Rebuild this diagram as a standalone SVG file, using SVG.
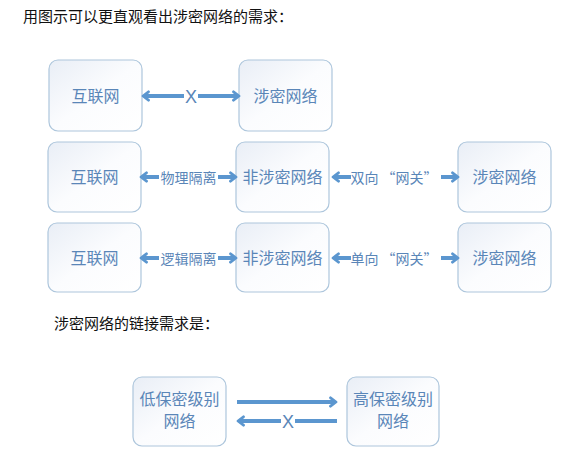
<svg xmlns="http://www.w3.org/2000/svg" width="584" height="455" viewBox="0 0 584 455">
<defs>
<linearGradient id="boxfill" x1="0" y1="0" x2="1" y2="1">
<stop offset="0" stop-color="#e9eef6"/>
<stop offset="0.5" stop-color="#fbfcfe"/>
<stop offset="1" stop-color="#ffffff"/>
</linearGradient>
<marker id="head" viewBox="0 0 10 12" refX="6" refY="6" markerWidth="10" markerHeight="12" markerUnits="userSpaceOnUse" orient="auto-start-reverse">
<path d="M2.5,1.8 L8,6 L2.5,10.2" fill="none" stroke="#5b96cf" stroke-width="2.8" stroke-linecap="round" stroke-linejoin="round"/>
</marker>
</defs>
<style>
.box{fill:url(#boxfill);stroke:#adc6dc;stroke-width:1.2}
.bt{font-family:"Noto Sans CJK SC","Noto Sans",sans-serif;font-size:16px;fill:#5a86b8;text-anchor:middle}
.lb{font-family:"Noto Sans CJK SC","Noto Sans",sans-serif;font-size:14px;fill:#5a86b8;text-anchor:middle}
.xm{font-family:"Liberation Sans","Noto Sans",sans-serif;font-size:18px;fill:#5a86b8;text-anchor:middle}
.hd{font-family:"Noto Sans CJK SC","Noto Sans",sans-serif;font-size:15px;fill:#111111}
.ln{fill:none;stroke:#5b96cf;stroke-width:4}
</style>
<rect width="584" height="455" fill="#ffffff"/>
<text class="hd" x="23" y="21.5">用图示可以更直观看出涉密网络的需求：</text>
<text class="hd" x="54" y="328.5">涉密网络的链接需求是：</text>

<g id="n1"><rect class="box" x="49" y="60" width="93" height="71" rx="9"/><text class="bt" x="95.5" y="102">互联网</text></g>
<g id="n2"><rect class="box" x="239" y="60" width="93" height="71" rx="9"/><text class="bt" x="285.5" y="102">涉密网络</text></g>

<g id="n3"><rect class="box" x="48" y="142" width="93" height="70" rx="9"/><text class="bt" x="94.5" y="183">互联网</text></g>
<g id="n4"><rect class="box" x="236" y="142" width="93" height="70" rx="9"/><text class="bt" x="282.5" y="183">非涉密网络</text></g>
<g id="n5"><rect class="box" x="458" y="142" width="93" height="70" rx="9"/><text class="bt" x="504.5" y="183">涉密网络</text></g>

<g id="n6"><rect class="box" x="48" y="223" width="93" height="69" rx="9"/><text class="bt" x="94.5" y="264">互联网</text></g>
<g id="n7"><rect class="box" x="236" y="223" width="93" height="69" rx="9"/><text class="bt" x="282.5" y="264">非涉密网络</text></g>
<g id="n8"><rect class="box" x="458" y="223" width="93" height="69" rx="9"/><text class="bt" x="504.5" y="264">涉密网络</text></g>

<g id="n9"><rect class="box" x="133" y="377" width="93" height="69" rx="9"/><text class="bt" x="179.5" y="405">低保密级别</text><text class="bt" x="179.5" y="427">网络</text></g>
<g id="n10"><rect class="box" x="347" y="377" width="92" height="69" rx="9"/><text class="bt" x="393" y="405">高保密级别</text><text class="bt" x="393" y="427">网络</text></g>

<g id="connectors">
<line class="ln" x1="184" y1="96" x2="145" y2="96" marker-end="url(#head)"/>
<line class="ln" x1="198" y1="96" x2="237" y2="96" marker-end="url(#head)"/>
<text class="xm" x="191" y="102.5">X</text>

<line class="ln" x1="159" y1="177" x2="143" y2="177" marker-end="url(#head)"/>
<line class="ln" x1="218" y1="177" x2="234" y2="177" marker-end="url(#head)"/>
<text class="lb" x="188.5" y="182.5">物理隔离</text>
<line class="ln" x1="351" y1="177" x2="335" y2="177" marker-end="url(#head)"/>
<line class="ln" x1="441" y1="177" x2="456" y2="177" marker-end="url(#head)"/>
<text class="lb" x="394" y="182.5">双向 “网关”</text>

<line class="ln" x1="159" y1="258" x2="143" y2="258" marker-end="url(#head)"/>
<line class="ln" x1="218" y1="258" x2="234" y2="258" marker-end="url(#head)"/>
<text class="lb" x="188.5" y="263.5">逻辑隔离</text>
<line class="ln" x1="351" y1="258" x2="335" y2="258" marker-end="url(#head)"/>
<line class="ln" x1="441" y1="258" x2="456" y2="258" marker-end="url(#head)"/>
<text class="lb" x="394" y="263.5">单向 “网关”</text>

<line class="ln" x1="237" y1="402" x2="334" y2="402" marker-end="url(#head)"/>
<line class="ln" x1="281" y1="421" x2="240" y2="421" marker-end="url(#head)"/>
<line class="ln" x1="295" y1="421" x2="337" y2="421"/>
<text class="xm" x="288" y="427.5">X</text>
</g>
</svg>
